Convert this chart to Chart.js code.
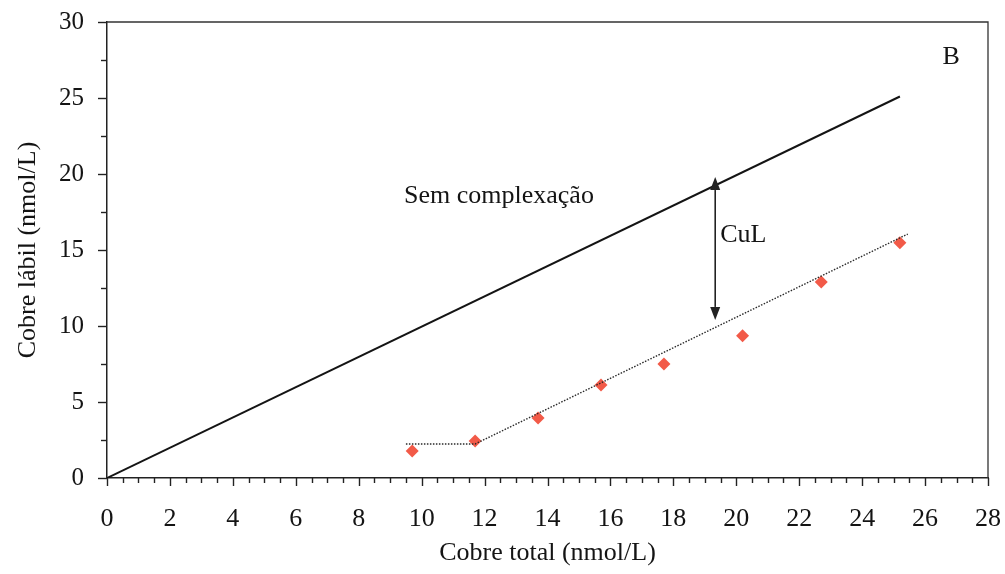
<!DOCTYPE html>
<html lang="pt">
<head>
<meta charset="utf-8">
<title>Cobre lábil vs cobre total</title>
<script src="https://cdn.jsdelivr.net/npm/chart.js@4/dist/chart.umd.min.js"></script>
<style>
  html, body { margin: 0; padding: 0; background: #fff; }
  #wrap { position: relative; width: 1005px; height: 574px; }
</style>
</head>
<body>
<div id="wrap"><canvas id="grafico"></canvas></div>
<script>
// Medições: cobre total vs cobre lábil (nmol/L)
const cobreTotal = [9.7, 11.7, 13.7, 15.7, 17.7, 20.2, 22.7, 25.2];
const cobreLabil = [1.78, 2.43, 3.95, 6.12, 7.5, 9.36, 12.9, 15.48];

// Reta sem complexação (lábil = total)
const semComplexX = [0, 25.2];
const semComplexY = [0, 25.1];

// Linha de tendência pontilhada
const tendenciaX = [9.5, 11.7, 25.45];
const tendenciaY = [2.24, 2.24, 16.05];

// Seta CuL entre as duas retas
const setaX = 19.33;
const setaTopo = 19.8;
const setaBase = 10.4;

// Eixos
const xMin = 0, xMax = 28, xPasso = 2, xMenor = 0.5;
const yMin = 0, yMax = 30, yPasso = 5, yMenor = 2.5;

const SERIF = '"Liberation Serif", "Times New Roman", serif';
const TINTA = '#141414';

function pares(xs, ys) { return xs.map((x, i) => ({ x: x, y: ys[i] })); }

const anotacoes = {
  id: 'anotacoes',
  beforeDatasetsDraw(chart) {
    const { ctx, chartArea: a } = chart;
    ctx.save();
    ctx.strokeStyle = '#333';
    ctx.lineWidth = 1.3;
    ctx.beginPath();
    ctx.moveTo(a.left, a.top);
    ctx.lineTo(a.right, a.top);
    ctx.lineTo(a.right, a.bottom);
    ctx.stroke();
    ctx.restore();
  },
  afterDraw(chart) {
    const { ctx, chartArea: a, scales: { x, y } } = chart;
    ctx.save();
    ctx.strokeStyle = '#222';
    ctx.lineWidth = 1.4;
    // marcas do eixo x
    for (let v = xMin; v <= xMax + 1e-9; v += xMenor) {
      const px = Math.round(x.getPixelForValue(v)) + 0.5;
      const major = Math.abs(v / xPasso - Math.round(v / xPasso)) < 1e-6;
      ctx.beginPath();
      ctx.moveTo(px, a.bottom);
      ctx.lineTo(px, a.bottom + (major ? 8 : 5));
      ctx.stroke();
    }
    // marcas do eixo y
    for (let v = yMin; v <= yMax + 1e-9; v += yMenor) {
      const py = Math.round(y.getPixelForValue(v)) + 0.5;
      const major = Math.abs(v / yPasso - Math.round(v / yPasso)) < 1e-6;
      ctx.beginPath();
      ctx.moveTo(a.left, py);
      ctx.lineTo(a.left - (major ? 9 : 6), py);
      ctx.stroke();
    }

    // seta dupla CuL
    const sx = x.getPixelForValue(setaX);
    const sy1 = y.getPixelForValue(setaTopo);
    const sy2 = y.getPixelForValue(setaBase);
    const ponta = 13, meia = 5;
    ctx.strokeStyle = '#222';
    ctx.fillStyle = '#222';
    ctx.lineWidth = 1.6;
    ctx.beginPath();
    ctx.moveTo(sx, sy1 + ponta);
    ctx.lineTo(sx, sy2 - ponta);
    ctx.stroke();
    ctx.beginPath();
    ctx.moveTo(sx, sy1);
    ctx.lineTo(sx - meia, sy1 + ponta);
    ctx.lineTo(sx + meia, sy1 + ponta);
    ctx.closePath();
    ctx.fill();
    ctx.beginPath();
    ctx.moveTo(sx, sy2);
    ctx.lineTo(sx - meia, sy2 - ponta);
    ctx.lineTo(sx + meia, sy2 - ponta);
    ctx.closePath();
    ctx.fill();

    // rótulos no gráfico
    ctx.fillStyle = TINTA;
    ctx.font = '26px ' + SERIF;
    ctx.textBaseline = 'middle';
    ctx.textAlign = 'left';
    ctx.fillText('Sem complexação', x.getPixelForValue(9.44), y.getPixelForValue(18.55));
    ctx.fillText('CuL', x.getPixelForValue(19.49), y.getPixelForValue(15.99));
    ctx.textAlign = 'center';
    ctx.fillText('B', x.getPixelForValue(26.83), y.getPixelForValue(27.7));
    ctx.restore();
  }
};

new Chart(document.getElementById('grafico'), {
  type: 'scatter',
  data: {
    datasets: [
      {
        label: 'Tendência',
        data: pares(tendenciaX, tendenciaY),
        showLine: true,
        borderColor: '#2a2a2a',
        borderWidth: 1.4,
        borderDash: [1.5, 1.5],
        pointRadius: 0,
        fill: false,
        order: 0
      },
      {
        label: 'Cobre lábil',
        data: pares(cobreTotal, cobreLabil),
        showLine: false,
        pointStyle: 'rectRot',
        pointRadius: 6.5,
        backgroundColor: '#f25a48',
        borderColor: '#f25a48',
        borderWidth: 0,
        order: 1
      },
      {
        label: 'Sem complexação',
        data: pares(semComplexX, semComplexY),
        showLine: true,
        borderColor: TINTA,
        borderWidth: 2,
        pointRadius: 0,
        fill: false,
        order: 2
      }
    ]
  },
  options: {
    responsive: true,
    maintainAspectRatio: false,
    animation: false,
    events: [],
    layout: { padding: { top: 22, right: 17, left: 0, bottom: 0 } },
    plugins: { legend: { display: false }, tooltip: { enabled: false } },
    scales: {
      x: {
        type: 'linear',
        min: xMin, max: xMax,
        afterFit(s) { s.height = 96; s.paddingLeft = 0; s.paddingRight = 0; },
        ticks: { stepSize: xPasso, autoSkip: false, maxRotation: 0, padding: 26,
                 color: TINTA, font: { family: SERIF, size: 26 } },
        grid: { display: false, drawTicks: false },
        border: { display: true, color: '#222', width: 1.5 },
        title: { display: true, text: 'Cobre total (nmol/L)', color: TINTA,
                 font: { family: SERIF, size: 26 }, padding: { top: 0, bottom: 5 } }
      },
      y: {
        type: 'linear',
        min: yMin, max: yMax,
        afterFit(s) { s.width = 107; s.paddingTop = 0; s.paddingBottom = 0; },
        ticks: { stepSize: yPasso, padding: 23, color: TINTA,
                 font: { family: SERIF, size: 25 } },
        grid: { display: false, drawTicks: false },
        border: { display: true, color: '#222', width: 1.5 },
        title: { display: true, text: 'Cobre lábil (nmol/L)', color: TINTA,
                 font: { family: SERIF, size: 26 }, padding: { top: 13, bottom: 0 } }
      }
    }
  },
  plugins: [anotacoes]
});
</script>
</body>
</html>
